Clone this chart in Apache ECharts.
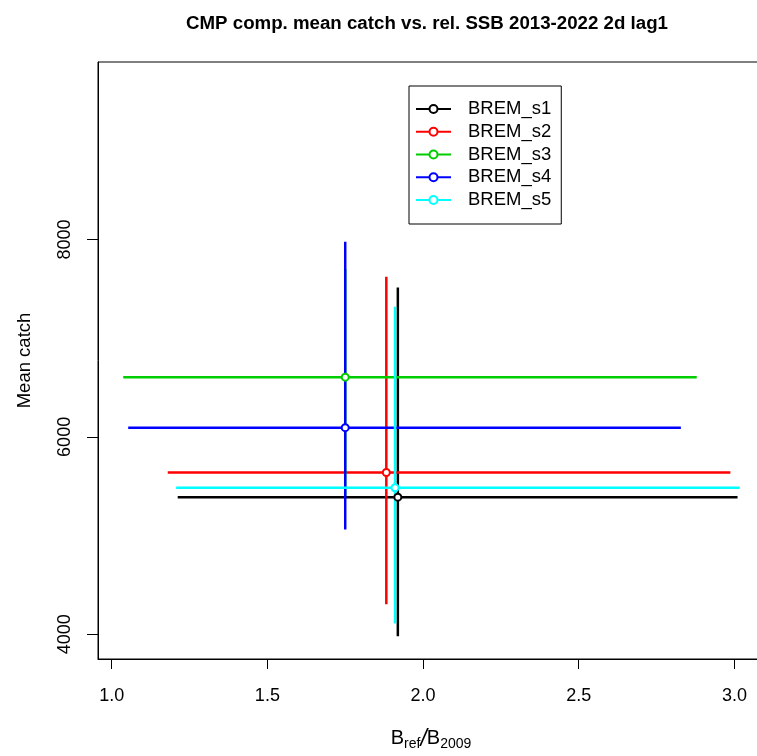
<!DOCTYPE html>
<html>
<head>
<meta charset="utf-8">
<script src="https://cdn.jsdelivr.net/npm/echarts@6/dist/echarts.min.js"></script>
<style>html,body{margin:0;padding:0;background:#fff}#c{width:757px;height:756px}</style>
</head>
<body>
<div id="c"></div>
<script>
const names = ['BREM_s1', 'BREM_s2', 'BREM_s3', 'BREM_s4', 'BREM_s5'];
const colors = ['#000000', '#FF0000', '#00CD00', '#0000FF', '#00FFFF'];
const relSSB = [1.919, 1.882, 1.750, 1.750, 1.910];
const relSSBLow = [1.212, 1.180, 1.037, 1.053, 1.207];
const relSSBHigh = [3.010, 2.987, 2.879, 2.828, 3.017];
const meanCatch = [5389, 5639, 6605, 6093, 5485];
const catchLow = [3980, 4305, 5400, 5062, 4109];
const catchHigh = [7514, 7621, 7700, 7976, 7317];
const xTicks = [1.0, 1.5, 2.0, 2.5, 3.0];
const yTicks = [4000, 6000, 8000];

const FONT = 'Liberation Sans, Arial, sans-serif';
const chart = echarts.init(document.getElementById('c'), null, {renderer: 'canvas'});

const series = names.map((n, i) => ({
  name: n,
  type: 'line',
  symbol: 'emptyCircle',
  symbolSize: 7,
  showSymbol: true,
  connectNulls: false,
  animation: false,
  lineStyle: {color: colors[i], width: 2.5},
  itemStyle: {color: colors[i], borderWidth: 2.8},
  emphasis: {disabled: true},
  data: [
    {value: [relSSBLow[i], meanCatch[i]], symbol: 'none'},
    {value: [relSSB[i], meanCatch[i]]},
    {value: [relSSBHigh[i], meanCatch[i]], symbol: 'none'},
    ['-', '-'],
    {value: [relSSB[i], catchLow[i]], symbol: 'none'},
    {value: [relSSB[i], catchHigh[i]], symbol: 'none'}
  ]
}));

chart.setOption({
  animation: false,
  backgroundColor: '#ffffff',
  title: {
    text: 'CMP comp. mean catch vs. rel. SSB 2013-2022 2d lag1',
    left: 427, textAlign: 'center', top: 14, padding: 0,
    textStyle: {fontFamily: FONT, fontSize: 18.7, fontWeight: 'bold', color: '#000'}
  },
  legend: {
    orient: 'vertical',
    left: 409, top: 86,
    data: names,
    itemWidth: 35, itemHeight: 10, itemGap: 2.75,
    padding: [13, 10, 14, 6],
    borderColor: '#000', borderWidth: 1,
    selectedMode: false,
    textStyle: {fontFamily: FONT, fontSize: 18.5, color: '#000', lineHeight: 20, padding: [0, 0, 0, 12]}
  },
  grid: {left: 98, top: 62, width: 666, height: 597, outerBoundsMode: 'none', containLabel: false,
    show: true, borderColor: '#000', borderWidth: 1, backgroundColor: 'transparent'},
  xAxis: {
    type: 'value', min: 0.956, max: 3.095,
    name: '{a|B}{b|ref}{s|/}{a|B}{b|2009}',
    nameLocation: 'middle', nameGap: 69,
    nameTextStyle: {
      fontFamily: FONT, color: '#000',
      rich: {
        a: {fontFamily: FONT, fontSize: 20, color: '#000', verticalAlign: 'top', lineHeight: 22},
        s: {fontFamily: FONT, fontSize: 23, color: '#000', verticalAlign: 'top', lineHeight: 22, fontStyle: 'italic'},
        b: {fontFamily: FONT, fontSize: 14, color: '#000', verticalAlign: 'top', lineHeight: 16, padding: [9, 0, 0, 0]}
      }
    },
    splitLine: {show: false},
    axisLine: {show: true, lineStyle: {color: '#000', width: 1}},
    axisTick: {show: true, length: 10, customValues: xTicks, lineStyle: {color: '#000'}},
    axisLabel: {customValues: xTicks, margin: 28, fontFamily: FONT, fontSize: 18, color: '#000',
      formatter: v => v.toFixed(1)}
  },
  yAxis: {
    type: 'value', min: 3750, max: 9797,
    name: 'Mean catch', nameLocation: 'middle', nameGap: 64, nameRotate: 90,
    nameTextStyle: {fontFamily: FONT, fontSize: 18.5, color: '#000'},
    splitLine: {show: false},
    axisLine: {show: true, lineStyle: {color: '#000', width: 1}},
    axisTick: {show: true, length: 11, customValues: yTicks, lineStyle: {color: '#000'}},
    axisLabel: {customValues: yTicks, margin: 24, rotate: 90, fontFamily: FONT, fontSize: 18, color: '#000',
      formatter: v => String(v)}
  },
  series: series
});
</script>
</body>
</html>
